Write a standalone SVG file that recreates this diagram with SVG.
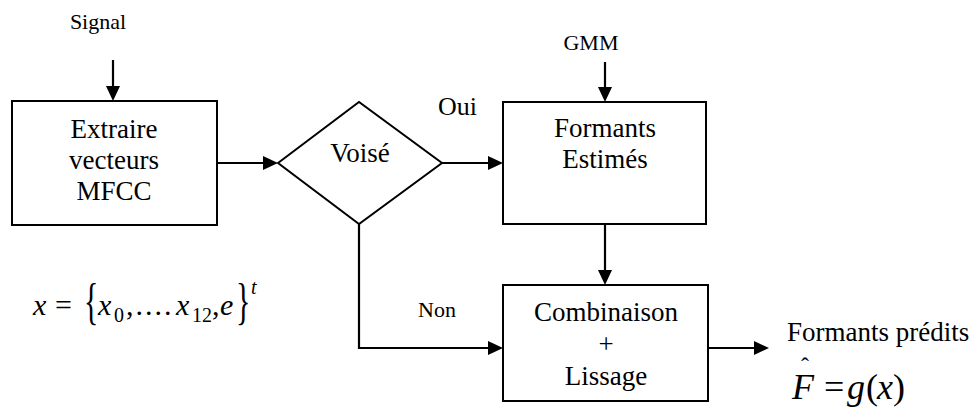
<svg xmlns="http://www.w3.org/2000/svg" width="976" height="411" viewBox="0 0 976 411" font-family="'Liberation Serif', Tinos, 'DejaVu Serif', serif">
<style>
  .box { fill: #fff; stroke: #000; stroke-width: 2; }
  .ln { fill: none; stroke: #000; stroke-width: 2.2; }
  .t { font-size: 27px; text-anchor: middle; }
  .s { font-size: 22px; }
  .m { font-size: 30px; }
  .i { font-style: italic; }
</style>
<defs>
  <marker id="ah" viewBox="0 0 15 14" refX="10" refY="7" markerWidth="15" markerHeight="14" markerUnits="userSpaceOnUse" orient="auto">
    <path d="M0,0 L15,7 L0,14 z" fill="#000"/>
  </marker>
</defs>
<rect width="976" height="411" fill="#fff"/>

<g id="connectors">
  <path class="ln" d="M113,60 V96" marker-end="url(#ah)"/>
  <path class="ln" d="M217,163 H273" marker-end="url(#ah)"/>
  <path class="ln" d="M442,163 H498" marker-end="url(#ah)"/>
  <path class="ln" d="M605,62 V97" marker-end="url(#ah)"/>
  <path class="ln" d="M605,224 V280" marker-end="url(#ah)"/>
  <path class="ln" d="M359,224 V348 H498" marker-end="url(#ah)"/>
  <path class="ln" d="M708,348 H764" marker-end="url(#ah)"/>
</g>

<g id="signal-label"><text class="s" x="98" y="29" text-anchor="middle">Signal</text></g>
<g id="gmm-label"><text class="s" x="591" y="50" text-anchor="middle">GMM</text></g>

<g id="extraire">
  <rect class="box" x="12" y="101" width="205" height="124"/>
  <text class="t" x="114" y="138">Extraire</text>
  <text class="t" x="114" y="169">vecteurs</text>
  <text class="t" x="114" y="200">MFCC</text>
</g>

<g id="voise">
  <polygon class="box" points="278,163 359,102 442,163 359,224"/>
  <text class="t" x="360" y="162">Voisé</text>
</g>

<g id="oui-label"><text x="438" y="115" font-size="26">Oui</text></g>
<g id="non-label"><text class="s" x="418" y="317">Non</text></g>

<g id="formants-estimes">
  <rect class="box" x="503" y="102" width="203" height="122"/>
  <text class="t" x="605" y="137">Formants</text>
  <text class="t" x="605" y="168">Estimés</text>
</g>

<g id="combinaison">
  <rect class="box" x="503" y="285" width="205" height="116"/>
  <text class="t" x="606" y="321">Combinaison</text>
  <text class="t" x="606" y="353">+</text>
  <text class="t" x="606" y="385">Lissage</text>
</g>

<g id="output-label">
  <text x="787" y="341" font-size="27">Formants prédits</text>
</g>

<g id="formula-x">
  <text class="m i" x="33" y="315">x</text>
  <text class="m" x="55" y="315">=</text>
  <text class="m" transform="translate(84,318) scale(1,1.7)">{</text>
  <text class="m i" x="98" y="315">x</text>
  <text x="114" y="322" font-size="20">0</text>
  <text class="m" x="126" y="315" letter-spacing="2">,....</text>
  <text class="m i" x="176" y="315">x</text>
  <text x="192" y="322" font-size="20">12</text>
  <text class="m" x="212" y="315">,</text>
  <text class="m i" x="220" y="315">e</text>
  <text class="m" transform="translate(236,318) scale(1,1.7)">}</text>
  <text class="i" x="251" y="294" font-size="20">t</text>
</g>

<g id="formula-f">
  <text class="i" x="792" y="399" font-size="36">F</text>
  <text x="805" y="374" font-size="24" text-anchor="middle">ˆ</text>
  <text x="824" y="399" font-size="36">=</text>
  <text class="i" x="847" y="399" font-size="36">g</text>
  <text x="866" y="399" font-size="36">(</text>
  <text class="i" x="877" y="399" font-size="36">x</text>
  <text x="893" y="399" font-size="36">)</text>
</g>
</svg>
